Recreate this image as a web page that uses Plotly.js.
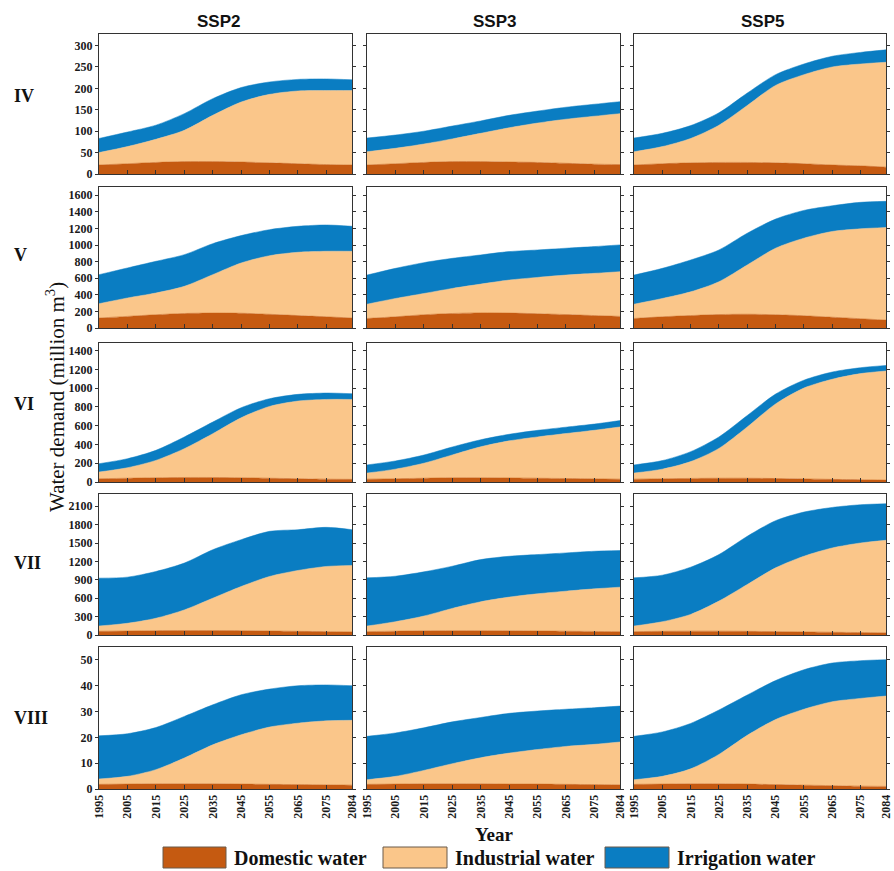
<!DOCTYPE html>
<html>
<head>
<meta charset="utf-8">
<script src="https://cdn.plot.ly/plotly-3.0.1.min.js"></script>
<style>html,body{margin:0;padding:0;background:#fff;}#chart{width:894px;height:871px;}</style>
</head>
<body>
<div id="chart"></div>
<script>
// ---- data ----
const years = [1995, 2005, 2015, 2025, 2035, 2045, 2055, 2065, 2075, 2084];
const xTicks = [1995, 2005, 2015, 2025, 2035, 2045, 2055, 2065, 2075, 2084];
const scenarios = ["SSP2", "SSP3", "SSP5"];
const regions = ["IV", "V", "VI", "VII", "VIII"];
const seriesNames = ["Domestic water", "Industrial water", "Irrigation water"];

// Region IV
const dom_IV_SSP2 = [21, 24, 27, 29, 29, 28, 26, 24, 22, 21];
const ind_IV_SSP2 = [29, 40, 54, 73, 108, 140, 160, 170, 173, 174];
const irr_IV_SSP2 = [33, 34, 33, 39, 39, 34, 29, 27, 27, 25];
const dom_IV_SSP3 = [21, 24, 27, 29, 29, 28, 27, 25, 23, 22];
const ind_IV_SSP3 = [31, 36, 43, 53, 66, 80, 92, 103, 112, 119];
const irr_IV_SSP3 = [32, 31, 30, 30, 29, 29, 28, 28, 28, 28];
const dom_IV_SSP5 = [21, 24, 26, 27, 27, 26, 24, 21, 19, 16];
const ind_IV_SSP5 = [31, 40, 57, 87, 133, 181, 208, 229, 238, 245];
const irr_IV_SSP5 = [32, 31, 30, 29, 29, 25, 25, 25, 27, 29];

// Region V
const dom_V_SSP2 = [120, 140, 160, 175, 180, 178, 165, 150, 135, 120];
const ind_V_SSP2 = [173, 222, 262, 327, 463, 606, 707, 763, 790, 805];
const irr_V_SSP2 = [350, 362, 382, 382, 374, 330, 314, 313, 317, 301];
const dom_V_SSP3 = [115, 135, 160, 175, 182, 180, 172, 162, 150, 140];
const ind_V_SSP3 = [172, 221, 256, 302, 347, 398, 438, 476, 509, 539];
const irr_V_SSP3 = [351, 363, 372, 363, 352, 343, 331, 324, 323, 323];
const dom_V_SSP5 = [115, 135, 150, 162, 166, 160, 148, 130, 112, 95];
const ind_V_SSP5 = [172, 221, 286, 396, 594, 802, 935, 1034, 1084, 1117];
const irr_V_SSP5 = [351, 363, 384, 383, 383, 351, 335, 310, 319, 315];

// Region VI
const dom_VI_SSP2 = [35, 40, 45, 48, 48, 45, 40, 35, 30, 28];
const ind_VI_SSP2 = [71, 112, 185, 307, 466, 639, 765, 827, 849, 851];
const irr_VI_SSP2 = [89, 96, 107, 124, 124, 107, 82, 71, 68, 61];
const dom_VI_SSP3 = [30, 35, 40, 45, 45, 43, 40, 37, 34, 30];
const ind_VI_SSP3 = [65, 102, 160, 243, 330, 395, 440, 479, 517, 556];
const irr_VI_SSP3 = [87, 87, 87, 85, 75, 70, 70, 68, 66, 68];
const dom_VI_SSP5 = [30, 35, 38, 40, 40, 37, 33, 28, 24, 20];
const ind_VI_SSP5 = [65, 102, 179, 318, 546, 794, 967, 1066, 1130, 1162];
const irr_VI_SSP5 = [87, 91, 106, 122, 122, 105, 84, 77, 63, 59];

// Region VII
const dom_VII_SSP2 = [60, 65, 70, 72, 72, 70, 65, 60, 55, 50];
const ind_VII_SSP2 = [87, 126, 203, 337, 528, 721, 890, 993, 1063, 1085];
const irr_VII_SSP2 = [780, 753, 763, 764, 791, 764, 736, 665, 638, 583];
const dom_VII_SSP3 = [55, 62, 68, 70, 70, 68, 65, 62, 58, 55];
const ind_VII_SSP3 = [91, 155, 241, 364, 472, 550, 607, 653, 695, 725];
const irr_VII_SSP3 = [786, 742, 721, 688, 688, 666, 640, 624, 613, 597];
const dom_VII_SSP5 = [55, 60, 63, 63, 60, 55, 50, 45, 40, 35];
const ind_VII_SSP5 = [91, 157, 273, 490, 764, 1040, 1235, 1375, 1461, 1510];
const irr_VII_SSP5 = [786, 759, 770, 759, 786, 770, 720, 661, 624, 596];

// Region VIII
const dom_VIII_SSP2 = [1.8, 1.9, 2.0, 2.0, 2.0, 1.9, 1.8, 1.7, 1.6, 1.5];
const ind_VIII_SSP2 = [2.1, 3.0, 5.5, 10.0, 15.1, 19.1, 22.2, 23.8, 24.8, 25.1];
const irr_VIII_SSP2 = [16.7, 16.5, 16.3, 16.1, 15.5, 15.5, 14.7, 14.5, 13.9, 13.4];
const dom_VIII_SSP3 = [1.8, 1.9, 2.0, 2.0, 2.0, 1.9, 1.9, 1.8, 1.7, 1.6];
const ind_VIII_SSP3 = [1.8, 3.0, 5.2, 7.8, 10.1, 12.0, 13.4, 14.7, 15.6, 16.6];
const irr_VIII_SSP3 = [16.8, 16.8, 16.5, 16.2, 15.6, 15.4, 14.9, 14.4, 14.2, 13.9];
const dom_VIII_SSP5 = [1.8, 1.9, 2.0, 2.0, 1.9, 1.7, 1.5, 1.3, 1.1, 1.0];
const ind_VIII_SSP5 = [1.8, 3.0, 5.8, 11.4, 18.9, 25.2, 29.4, 32.5, 34.0, 35.0];
const irr_VIII_SSP5 = [16.8, 17.2, 17.6, 17.2, 15.6, 15.1, 15.3, 15.0, 14.6, 14.1];

// y-axis ranges / tick steps per region
const yMax = [327, 1700, 1480, 2300, 55];
const yStep = [50, 200, 200, 300, 10];

// ---- build ----
const panelData = {
  IV: [[dom_IV_SSP2, ind_IV_SSP2, irr_IV_SSP2], [dom_IV_SSP3, ind_IV_SSP3, irr_IV_SSP3], [dom_IV_SSP5, ind_IV_SSP5, irr_IV_SSP5]],
  V: [[dom_V_SSP2, ind_V_SSP2, irr_V_SSP2], [dom_V_SSP3, ind_V_SSP3, irr_V_SSP3], [dom_V_SSP5, ind_V_SSP5, irr_V_SSP5]],
  VI: [[dom_VI_SSP2, ind_VI_SSP2, irr_VI_SSP2], [dom_VI_SSP3, ind_VI_SSP3, irr_VI_SSP3], [dom_VI_SSP5, ind_VI_SSP5, irr_VI_SSP5]],
  VII: [[dom_VII_SSP2, ind_VII_SSP2, irr_VII_SSP2], [dom_VII_SSP3, ind_VII_SSP3, irr_VII_SSP3], [dom_VII_SSP5, ind_VII_SSP5, irr_VII_SSP5]],
  VIII: [[dom_VIII_SSP2, ind_VIII_SSP2, irr_VIII_SSP2], [dom_VIII_SSP3, ind_VIII_SSP3, irr_VIII_SSP3], [dom_VIII_SSP5, ind_VIII_SSP5, irr_VIII_SSP5]]
};

const W = 894, H = 871;
const colors = ["#C55A11", "#FAC68A", "#0A7DC2"];
const colPx = [[99, 352], [367, 620], [634, 886]];
const rowPx = [[34, 174], [187, 328], [343, 482], [494, 635], [647, 789]];
const serif = "Liberation Serif, Times New Roman, serif";
const sans = "Liberation Sans, Arial, sans-serif";

const traces = [];
const layout = {
  width: W, height: H,
  margin: {l: 0, r: 0, t: 0, b: 0},
  paper_bgcolor: "#fff", plot_bgcolor: "#fff",
  showlegend: false,
  annotations: [], shapes: []
};

regions.forEach((reg, r) => {
  scenarios.forEach((sc, c) => {
    const idx = r * 3 + c + 1;
    const xa = idx === 1 ? "x" : "x" + idx;
    const ya = idx === 1 ? "y" : "y" + idx;
    const xk = idx === 1 ? "xaxis" : "xaxis" + idx;
    const yk = idx === 1 ? "yaxis" : "yaxis" + idx;
    const series = panelData[reg][c];
    series.forEach((vals, s) => {
      traces.push({
        type: "scatter", mode: "lines", x: years, y: vals,
        xaxis: xa, yaxis: ya,
        stackgroup: "g" + idx,
        name: seriesNames[s],
        line: {width: 0.5, color: colors[s], shape: "spline", smoothing: 0.8},
        fillcolor: colors[s],
        hoverinfo: "skip"
      });
    });
    layout[xk] = {
      domain: [colPx[c][0] / W, colPx[c][1] / W],
      anchor: ya,
      range: [1995, 2084],
      tickvals: xTicks,
      ticktext: xTicks.map(String),
      ticks: "inside", ticklen: 4, tickcolor: "#333", tickwidth: 1,
      showticklabels: r === 4,
      tickangle: -90,
      ticklabeloverflow: "allow",
      tickfont: {family: serif, size: 12, color: "#1a1a1a", weight: "bold"},
      showline: true, linecolor: "#333", linewidth: 1, mirror: true,
      showgrid: false, zeroline: false, fixedrange: true
    };
    layout[yk] = {
      domain: [1 - rowPx[r][1] / H, 1 - rowPx[r][0] / H],
      anchor: xa,
      range: [0, yMax[r]],
      tick0: 0, dtick: yStep[r],
      ticks: "outside", ticklen: 3, tickcolor: "#333", tickwidth: 1,
      showticklabels: c === 0,
      tickfont: {family: serif, size: 12, color: "#1a1a1a", weight: "bold"},
      showline: true, linecolor: "#333", linewidth: 1, mirror: "ticks",
      showgrid: false, zeroline: false, fixedrange: true
    };
  });
});

// Column titles
const titleX = [218, 494, 762];
scenarios.forEach((sc, c) => {
  layout.annotations.push({
    text: "<b>" + sc + "</b>", xref: "paper", yref: "paper",
    x: titleX[c] / W, y: 1 - 22 / H, xanchor: "center", yanchor: "middle",
    showarrow: false, font: {family: sans, size: 17, color: "#111"}
  });
});
// Row labels
const rowLabelY = [96, 255, 404, 563, 718];
regions.forEach((reg, r) => {
  layout.annotations.push({
    text: "<b>" + reg + "</b>", xref: "paper", yref: "paper",
    x: 12 / W, y: 1 - rowLabelY[r] / H, xanchor: "left", yanchor: "middle",
    showarrow: false, font: {family: serif, size: 18, color: "#111"}
  });
});
// Y title
layout.annotations.push({
  text: "Water demand (million m<sup>3</sup>)", xref: "paper", yref: "paper",
  x: 55 / W, y: 1 - 397 / H, xanchor: "center", yanchor: "middle", textangle: -90,
  showarrow: false, font: {family: serif, size: 21, color: "#111"}
});
// X title
layout.annotations.push({
  text: "<b>Year</b>", xref: "paper", yref: "paper",
  x: 494 / W, y: 1 - 834 / H, xanchor: "center", yanchor: "middle",
  showarrow: false, font: {family: serif, size: 19, color: "#111"}
});
// Legend (manual)
const legBox = [[163, 226], [383, 447], [605, 669]];
seriesNames.forEach((nm, s) => {
  layout.shapes.push({
    type: "rect", xref: "paper", yref: "paper",
    x0: legBox[s][0] / W, x1: legBox[s][1] / W,
    y0: 1 - 868 / H, y1: 1 - 847 / H,
    fillcolor: colors[s], line: {color: "#6b5a4a", width: 1}
  });
  layout.annotations.push({
    text: "<b>" + nm + "</b>", xref: "paper", yref: "paper",
    x: (legBox[s][1] + 6) / W, y: 1 - 858 / H, xanchor: "left", yanchor: "middle",
    showarrow: false, font: {family: serif, size: 20, color: "#111"}
  });
});

Plotly.newPlot("chart", traces, layout, {staticPlot: true, displayModeBar: false});
</script>
</body>
</html>
